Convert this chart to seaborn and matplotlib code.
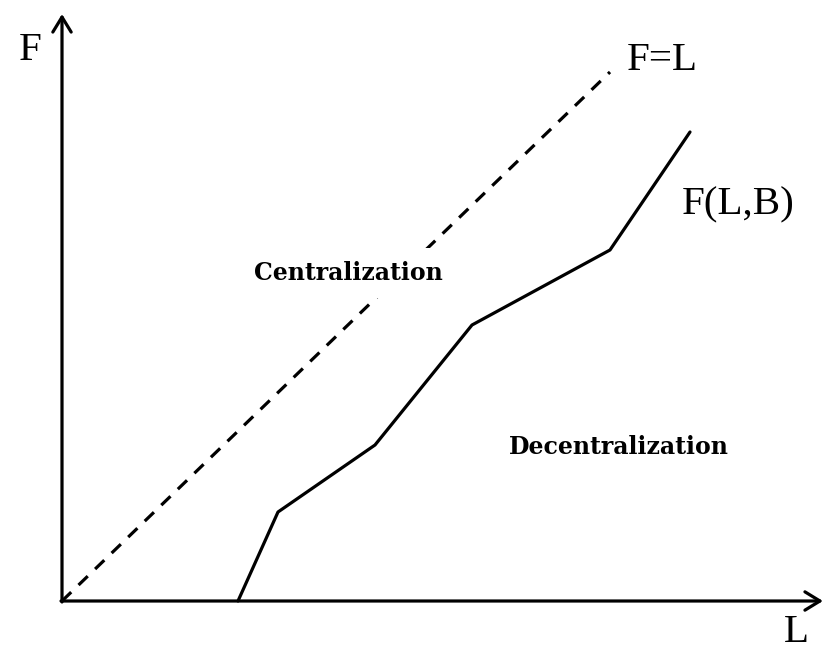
import matplotlib
matplotlib.use("Agg")
import matplotlib.pyplot as plt
import seaborn as sns
import pandas as pd

sns.set_theme(style="white")
plt.rcParams['font.family'] = ['Liberation Serif', 'DejaVu Serif']
plt.rcParams['text.color'] = 'black'

# Data (in chart units, origin at the axes' crossing)
eq_L = [0, 548]
eq_F = [0, 529]
curve_L = [176, 216, 313, 410, 548, 628]
curve_F = [0, 89, 156, 276, 351, 469]

fig = plt.figure(figsize=(8.26, 6.5), dpi=100)
ax = fig.add_axes([0, 0, 1, 1])
ax.set_xlim(-62, 764)
ax.set_ylim(-49, 601)
ax.axis('off')

lw = 2.3
df_eq = pd.DataFrame({'L': eq_L, 'F': eq_F})
df_cu = pd.DataFrame({'L': curve_L, 'F': curve_F})
sns.lineplot(data=df_eq, x='L', y='F', ax=ax, color='black', lw=lw,
             linestyle=(0, (4, 3.2)), sort=False)
sns.lineplot(data=df_cu, x='L', y='F', ax=ax, color='black', lw=lw, sort=False)

arrow = dict(arrowstyle='->,head_length=0.9,head_width=0.55', lw=lw, color='black',
             shrinkA=0, shrinkB=0)
ax.annotate('', xy=(761, 0), xytext=(-1, 0), arrowprops=arrow)
ax.annotate('', xy=(0, 587), xytext=(0, -1), arrowprops=arrow)

big = 29.5
ax.text(-32, 551, 'F', fontsize=big, ha='center', va='center', color='black')
ax.text(600, 540, 'F=L', fontsize=big, ha='center', va='center', color='black')
ax.text(676, 396, 'F(L,B)', fontsize=big, ha='center', va='center', color='black')
ax.text(734, -32, 'L', fontsize=big, ha='center', va='center', color='black')
ax.text(286, 328, 'Centralization', fontsize=17, fontweight='bold',
        family=['DejaVu Serif'], ha='center', va='center', color='black',
        bbox=dict(facecolor='white', edgecolor='none', pad=9))
ax.text(557, 154, 'Decentralization', fontsize=17, fontweight='bold',
        family=['DejaVu Serif'], ha='center', va='center', color='black')

fig.savefig('out.png', dpi=100)
